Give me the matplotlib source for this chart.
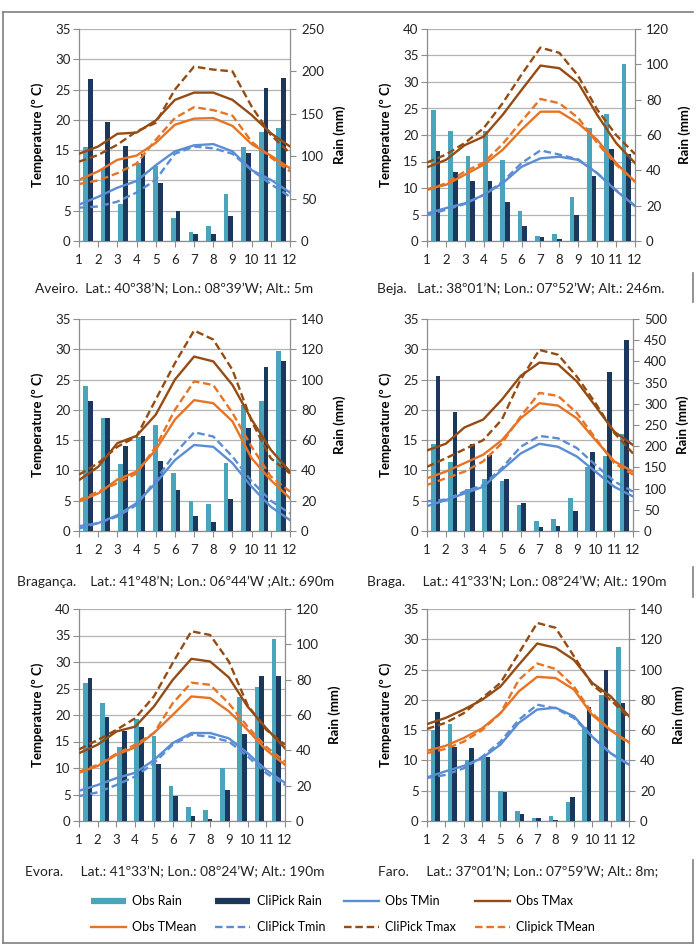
import numpy as np
import matplotlib.pyplot as plt
from matplotlib.lines import Line2D

plt.rcParams['font.family'] = ['Lato', 'DejaVu Sans']

months = list(range(1, 13))

# Aveiro
aveiro_obs_rain = [111, 85, 44, 92, 89, 27, 11, 18, 56, 111, 129, 133]
aveiro_cp_rain = [191, 140, 112, 103, 68, 35, 8, 8, 29, 104, 181, 192]
aveiro_obs_tmin = [6.0, 7.3, 8.8, 9.9, 12.5, 14.8, 15.8, 16.0, 14.8, 11.7, 10.1, 8.0]
aveiro_cp_tmin = [5.5, 5.7, 6.5, 8.0, 10.1, 14.4, 15.6, 15.3, 14.4, 11.7, 9.4, 7.3]
aveiro_obs_tmean = [10.1, 11.5, 13.4, 14.1, 16.2, 19.2, 20.2, 20.3, 19.0, 16.0, 14.1, 12.0]
aveiro_cp_tmean = [9.4, 10.0, 11.2, 12.8, 16.7, 20.3, 22.1, 21.6, 20.7, 16.4, 13.8, 11.5]
aveiro_obs_tmax = [14.4, 15.6, 17.7, 17.9, 19.9, 23.3, 24.5, 24.5, 23.3, 20.8, 17.8, 15.6]
aveiro_cp_tmax = [13.1, 14.2, 15.9, 18.1, 19.5, 25.0, 28.8, 28.3, 28.0, 22.2, 17.5, 14.5]

# Beja
beja_obs_rain = [74, 62, 48, 62, 46, 17, 3, 4, 25, 64, 72, 100]
beja_cp_rain = [51, 39, 34, 34, 22, 8.5, 2.5, 1.1, 14.6, 37, 52, 49.5]
beja_obs_tmin = [5.2, 6.2, 7.1, 8.7, 10.9, 14.0, 15.6, 15.9, 15.3, 12.8, 9.5, 6.6]
beja_cp_tmin = [4.9, 5.9, 7.0, 8.7, 11.2, 14.7, 17.1, 16.3, 15.4, 12.8, 9.6, 6.6]
beja_obs_tmean = [9.8, 10.6, 12.5, 14.4, 17.2, 21.0, 24.4, 24.4, 22.2, 19.1, 14.7, 11.2]
beja_cp_tmean = [9.6, 10.9, 13.1, 14.8, 18.3, 22.6, 26.8, 26.0, 23.2, 18.5, 14.4, 11.2]
beja_obs_tmax = [13.9, 15.3, 18.1, 19.7, 23.8, 28.5, 33.1, 32.6, 29.8, 23.8, 18.5, 14.7]
beja_cp_tmax = [14.8, 16.3, 18.5, 21.3, 26.0, 31.4, 36.5, 35.5, 31.1, 24.8, 20.0, 16.4]

# Braganca
braganca_obs_rain = [96, 74.5, 44, 62, 70, 38.6, 19.8, 18, 45, 83, 86, 119]
braganca_cp_rain = [86, 74.5, 56, 63, 46, 27, 10, 5.7, 21, 68, 108, 112]
braganca_obs_tmin = [0.8, 1.3, 2.6, 4.6, 7.9, 11.7, 14.2, 13.9, 11.2, 7.3, 4.0, 1.8]
braganca_cp_tmin = [0.4, 1.3, 2.4, 4.3, 8.4, 12.8, 16.3, 15.6, 12.3, 8.2, 5.0, 2.9]
braganca_obs_tmean = [4.9, 6.2, 8.5, 9.8, 13.4, 18.4, 21.6, 21.1, 18.1, 12.0, 8.4, 5.4]
braganca_cp_tmean = [5.1, 6.5, 7.9, 9.5, 13.9, 20.0, 24.7, 24.1, 19.5, 13.9, 9.0, 6.5]
braganca_obs_tmax = [8.4, 10.6, 14.5, 15.7, 19.2, 25.0, 28.8, 28.0, 24.1, 18.4, 13.4, 9.8]
braganca_cp_tmax = [9.3, 11.2, 13.9, 15.6, 21.7, 27.7, 33.1, 31.6, 26.6, 18.1, 12.0, 9.5]

# Braga
braga_obs_rain = [205, 162, 99, 122, 119, 61, 24, 28, 77, 152, 176, 229]
braga_cp_rain = [366, 280, 205, 180, 123, 65, 10, 12, 47, 187, 374, 450]
braga_obs_tmin = [4.1, 5.1, 6.2, 7.3, 10.1, 12.8, 14.4, 13.9, 12.3, 9.8, 7.3, 5.7]
braga_cp_tmin = [4.9, 5.2, 6.5, 7.6, 10.4, 13.9, 15.7, 15.3, 13.7, 10.9, 8.2, 6.5]
braga_obs_tmean = [8.7, 9.8, 11.2, 12.6, 15.0, 18.6, 21.1, 20.7, 18.6, 15.0, 11.5, 9.8]
braga_cp_tmean = [7.6, 8.7, 9.8, 11.5, 14.5, 18.9, 22.8, 22.3, 19.5, 15.3, 11.2, 9.3]
braga_obs_tmax = [13.3, 14.4, 17.1, 18.4, 21.7, 25.6, 27.8, 27.5, 24.7, 20.6, 16.4, 14.2]
braga_cp_tmax = [10.6, 12.0, 13.5, 15.0, 18.4, 25.0, 29.9, 29.1, 25.5, 21.1, 16.2, 12.8]

# Evora
evora_obs_rain = [78, 67, 42, 58, 48, 20, 8, 6, 30, 70, 76, 103]
evora_cp_rain = [81, 59, 51, 53, 32, 14.4, 3, 1.3, 17.6, 49, 82, 82]
evora_obs_tmin = [5.7, 6.8, 8.1, 9.1, 11.5, 14.7, 16.6, 16.6, 15.6, 12.8, 9.6, 7.2]
evora_cp_tmin = [4.7, 5.4, 6.8, 8.4, 10.9, 14.4, 16.3, 15.9, 15.0, 12.2, 9.0, 6.8]
evora_obs_tmean = [9.1, 10.4, 12.5, 13.9, 16.6, 20.0, 23.5, 23.2, 20.7, 17.2, 13.4, 10.6]
evora_cp_tmean = [9.3, 10.6, 12.7, 14.4, 16.6, 22.2, 26.1, 25.7, 22.2, 17.8, 14.0, 11.2]
evora_obs_tmax = [12.8, 14.4, 16.9, 17.8, 21.6, 26.6, 30.6, 30.1, 27.1, 21.6, 17.5, 13.7]
evora_cp_tmax = [13.5, 15.3, 17.2, 19.4, 23.5, 29.8, 35.8, 35.1, 30.1, 21.9, 17.2, 14.4]

# Faro
faro_obs_rain = [60, 64, 40, 42.5, 20, 6.4, 2, 3.3, 12.3, 62, 83, 115]
faro_cp_rain = [72, 49, 48, 42.5, 19, 4.4, 2, 0.9, 16, 75, 100, 78]
faro_obs_tmin = [7.2, 8.2, 9.1, 10.4, 12.6, 16.2, 18.4, 18.7, 17.3, 13.9, 11.2, 9.3]
faro_cp_tmin = [7.1, 7.6, 8.7, 10.6, 13.1, 16.7, 19.2, 18.6, 17.0, 13.9, 11.2, 9.3]
faro_obs_tmean = [11.6, 12.4, 13.7, 15.3, 17.8, 21.4, 23.8, 23.6, 21.7, 17.5, 15.0, 13.0]
faro_cp_tmean = [11.2, 11.9, 13.1, 15.0, 17.8, 23.3, 26.0, 25.1, 22.2, 17.8, 15.0, 12.8]
faro_obs_tmax = [16.0, 17.0, 18.4, 20.0, 22.2, 25.8, 29.3, 28.6, 26.6, 22.8, 20.6, 17.3]
faro_cp_tmax = [15.2, 16.2, 17.8, 20.3, 22.8, 27.7, 32.7, 31.9, 27.2, 22.5, 20.0, 17.0]

captions = [
    'Aveiro.  Lat.: 40º38’N; Lon.: 08º39’W; Alt.: 5m',
    'Beja.   Lat.: 38º01’N; Lon.: 07º52’W; Alt.: 246m.',
    'Bragança.    Lat.: 41º48’N; Lon.: 06º44’W ;Alt.: 690m',
    'Braga.     Lat.: 41º33’N; Lon.: 08º24’W; Alt.: 190m',
    'Evora.     Lat.: 41º33’N; Lon.: 08º24’W; Alt.: 190m',
    'Faro.     Lat.: 37º01’N; Lon.: 07º59’W; Alt.: 8m;',
]

TEAL = '#4AA5BC'
NAVY = '#1B385C'
BLUE = '#5A8ED4'
BROWN = '#964B12'
ORANGE = '#E77424'
GRID = '#B3B3B3'
AX = '#8C8C8C'

W, H = 700, 948
fig = plt.figure(figsize=(W / 100, H / 100), dpi=100)

# panel boxes in pixels: left, top, right, bottom
boxes = [(79, 29, 290, 241), (427, 29, 635, 241),
         (79, 319, 290, 531), (427, 319, 633, 531),
         (79, 609, 285, 821), (427, 609, 629, 821)]
temp_max = [35, 40, 35, 35, 40, 35]
rain_max = [250, 120, 140, 500, 120, 140]
rain_step = [50, 20, 20, 50, 20, 20]
cap_pos = [(35, 289), (377, 289), (17, 582), (367, 582), (25, 872), (378, 872)]

stations = [
    (aveiro_obs_rain, aveiro_cp_rain, aveiro_obs_tmin, aveiro_cp_tmin,
     aveiro_obs_tmean, aveiro_cp_tmean, aveiro_obs_tmax, aveiro_cp_tmax),
    (beja_obs_rain, beja_cp_rain, beja_obs_tmin, beja_cp_tmin,
     beja_obs_tmean, beja_cp_tmean, beja_obs_tmax, beja_cp_tmax),
    (braganca_obs_rain, braganca_cp_rain, braganca_obs_tmin, braganca_cp_tmin,
     braganca_obs_tmean, braganca_cp_tmean, braganca_obs_tmax, braganca_cp_tmax),
    (braga_obs_rain, braga_cp_rain, braga_obs_tmin, braga_cp_tmin,
     braga_obs_tmean, braga_cp_tmean, braga_obs_tmax, braga_cp_tmax),
    (evora_obs_rain, evora_cp_rain, evora_obs_tmin, evora_cp_tmin,
     evora_obs_tmean, evora_cp_tmean, evora_obs_tmax, evora_cp_tmax),
    (faro_obs_rain, faro_cp_rain, faro_obs_tmin, faro_cp_tmin,
     faro_obs_tmean, faro_cp_tmean, faro_obs_tmax, faro_cp_tmax),
]

DASH = (3.2, 1.6)
LW = 1.7
TICKFS = 9.5

for i, st in enumerate(stations):
    obs_r, cp_r, o_min, c_min, o_mean, c_mean, o_max, c_max = st
    l, t, r, b = boxes[i]
    pos = [l / W, 1 - b / H, (r - l) / W, (b - t) / H]

    # temperature axes: grid, left axis, month ticks
    axt = fig.add_axes(pos)
    axt.set_xlim(1, 12)
    axt.set_ylim(0, temp_max[i])
    axt.set_xticks(months)
    axt.set_yticks(np.arange(0, temp_max[i] + 1, 5))
    axt.yaxis.grid(True, color=GRID, lw=0.9)
    axt.set_axisbelow(True)
    axt.spines['top'].set_visible(False)
    for s in ['left', 'right', 'bottom']:
        axt.spines[s].set_color(AX)
        axt.spines[s].set_linewidth(0.9)
    axt.tick_params(direction='out', length=4, color=AX, labelsize=TICKFS,
                    labelcolor='#222222', pad=2)
    axt.tick_params(axis='x', pad=5)

    # rain axes: bars, right axis
    axb = fig.add_axes(pos, frameon=False)
    x = np.arange(12)
    axb.bar(x - 0.135, obs_r, width=0.27, color=TEAL)
    axb.bar(x + 0.135, cp_r, width=0.27, color=NAVY)
    axb.set_xlim(-0.5, 11.5)
    axb.set_ylim(0, rain_max[i])
    axb.set_yticks(np.arange(0, rain_max[i] + 1, rain_step[i]))
    axb.xaxis.set_visible(False)
    axb.yaxis.tick_right()
    axb.tick_params(direction='out', length=4, color=AX, labelsize=TICKFS,
                    labelcolor='#222222', pad=4)

    # temperature lines drawn above the bars
    tr = axt.transData
    axb.plot(months, o_min, color=BLUE, lw=LW, transform=tr)
    axb.plot(months, c_min, color=BLUE, lw=LW, dashes=DASH, transform=tr)
    axb.plot(months, o_mean, color=ORANGE, lw=LW, transform=tr)
    axb.plot(months, c_mean, color=ORANGE, lw=LW, dashes=DASH, transform=tr)
    axb.plot(months, o_max, color=BROWN, lw=LW, transform=tr)
    axb.plot(months, c_max, color=BROWN, lw=LW, dashes=DASH, transform=tr)

    # axis titles
    ymid = 1 - (t + b) / 2 / H
    fig.text((l - 41) / W, ymid, 'Temperature (º C)', rotation=90,
             ha='center', va='center', fontsize=9.5, fontweight='bold')
    fig.text((r + 50) / W, ymid, 'Rain (mm)', rotation=90,
             ha='center', va='center', fontsize=9.5, fontweight='bold')

    cx, cy = cap_pos[i]
    fig.text(cx / W, 1 - cy / H, captions[i], ha='left', va='center',
             fontsize=9.9, color='#222222')

# legend
handles = [
    Line2D([], [], color=TEAL, lw=4.5, solid_capstyle='butt'),
    Line2D([], [], color=ORANGE, lw=LW),
    Line2D([], [], color=NAVY, lw=4.5, solid_capstyle='butt'),
    Line2D([], [], color=BLUE, lw=LW, dashes=DASH),
    Line2D([], [], color=BLUE, lw=LW),
    Line2D([], [], color=BROWN, lw=LW, dashes=DASH),
    Line2D([], [], color=BROWN, lw=LW),
    Line2D([], [], color=ORANGE, lw=LW, dashes=DASH),
]
labels = ['Obs Rain', 'Obs TMean', 'CliPick Rain', 'CliPick Tmin',
          'Obs TMin', 'CliPick Tmax', 'Obs TMax', 'Clipick TMean']
fig.legend(handles, labels, ncol=4, loc='center',
           bbox_to_anchor=(343 / W, 1 - 914 / H), frameon=False,
           fontsize=9, handlelength=2.8, handletextpad=0.5,
           columnspacing=1.5, labelspacing=1.1)

# outer frame
FR = '#7F7F7F'
for xs, ys in [([3, 693], [12, 12]), ([3, 3], [12, 943]), ([3, 693], [943, 943]),
               ([693, 693], [860, 943]), ([693, 693], [273, 302]),
               ([693, 693], [567, 597])]:
    fig.add_artist(Line2D([v / W for v in xs], [1 - v / H for v in ys],
                          color=FR, lw=1.2))

fig.savefig('out.png', dpi=100)
